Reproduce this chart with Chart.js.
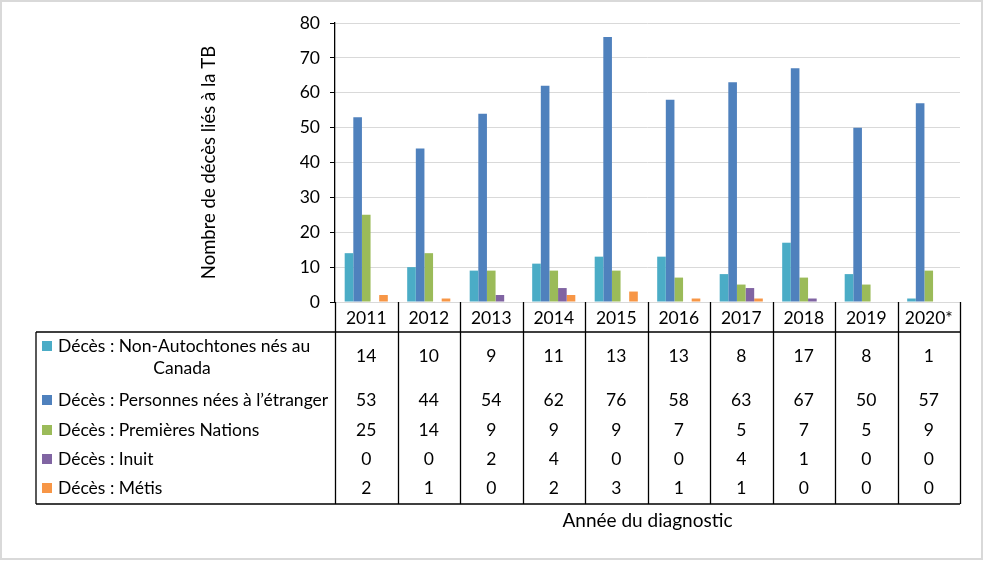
<!DOCTYPE html>
<html>
<head>
<meta charset="utf-8">
<script src="https://cdn.jsdelivr.net/npm/chart.js@4"></script>
<style>
  html, body { margin: 0; padding: 0; background: #fff; }
  #wrap { width: 984px; height: 561px; }
</style>
</head>
<body>
<div id="wrap"><canvas id="myChart" width="984" height="561"></canvas></div>
<script>
var ctx = document.getElementById('myChart');

// data
const years = ['2011', '2012', '2013', '2014', '2015', '2016', '2017', '2018', '2019', '2020*'];
const nonAutochtones = [14, 10, 9, 11, 13, 13, 8, 17, 8, 1];
const neesEtranger = [53, 44, 54, 62, 76, 58, 63, 67, 50, 57];
const premieresNations = [25, 14, 9, 9, 9, 7, 5, 7, 5, 9];
const inuit = [0, 0, 2, 4, 0, 0, 4, 1, 0, 0];
const metis = [2, 1, 0, 2, 3, 1, 1, 0, 0, 0];
const yTicks = [0, 10, 20, 30, 40, 50, 60, 70, 80];

const FONT = 'Lato, "Open Sans", sans-serif';

// table under the chart, drawn from the x scale
const tablePlugin = {
    id: 'dataTable',
    beforeDraw(chart) {
        let c = chart.ctx;
        c.save();
        c.fillStyle = '#fff';
        c.fillRect(0, 0, chart.width, chart.height);
        c.strokeStyle = '#d9d9d9';
        c.lineWidth = 2;
        c.strokeRect(1, 1, chart.width - 3, chart.height - 3);
        c.restore();
    },
    afterDraw(chart) {
        let c = chart.ctx;
        let x = chart.scales.x;
        let area = chart.chartArea;
        let colW = (area.right - area.left) / years.length;
        let top = area.bottom;
        let headBottom = top + 30;
        let bottom = top + 202;
        let legendLeft = 36;
        let rowY = [356, 400, 430, 459, 488];

        c.save();
        c.strokeStyle = '#000';
        c.lineWidth = 1.3;
        c.beginPath();
        // vertical lines
        for (let i = 0; i <= years.length; i++) {
            let px = Math.round(area.left + i * colW) + 0.5;
            c.moveTo(px, top);
            c.lineTo(px, bottom);
        }
        // horizontal lines
        c.moveTo(legendLeft, headBottom);
        c.lineTo(area.right, headBottom);
        c.moveTo(legendLeft, bottom);
        c.lineTo(area.right, bottom);
        c.moveTo(legendLeft, headBottom);
        c.lineTo(legendLeft, bottom);
        c.stroke();

        c.fillStyle = '#000';
        c.font = '17.5px ' + FONT;
        c.textAlign = 'center';
        c.textBaseline = 'middle';
        years.forEach(function (yr, i) {
            c.fillText(yr, x.getPixelForValue(i), (top + headBottom) / 2 + 1);
        });

        chart.data.datasets.forEach(function (ds, r) {
            ds.data.forEach(function (v, i) {
                c.fillStyle = '#000';
                c.fillText(String(v), x.getPixelForValue(i), rowY[r]);
            });
        });

        // legend column
        c.textAlign = 'left';
        chart.data.datasets.forEach(function (ds, r) {
            let ly = r === 0 ? 346 : rowY[r];
            c.fillStyle = ds.backgroundColor;
            c.fillRect(42, ly - 5, 10, 10);
            c.fillStyle = '#000';
            c.fillText(r === 0 ? 'Décès : Non-Autochtones nés au' : ds.label, 58, ly);
        });
        c.textAlign = 'center';
        c.fillText('Canada', 182, 368);
        c.restore();
    }
};

var myChart = new Chart(ctx, {
    type: 'bar',
    data: {
        labels: years,
        datasets: [{
            label: 'Décès : Non-Autochtones nés au Canada',
            backgroundColor: '#4BACC6',
            data: nonAutochtones
        }, {
            label: 'Décès : Personnes nées à l’étranger',
            backgroundColor: '#4F81BD',
            data: neesEtranger
        }, {
            label: 'Décès : Premières Nations',
            backgroundColor: '#9BBB59',
            data: premieresNations
        }, {
            label: 'Décès : Inuit',
            backgroundColor: '#8064A2',
            data: inuit
        }, {
            label: 'Décès : Métis',
            backgroundColor: '#F79646',
            data: metis
        }]
    },
    options: {
        responsive: false,
        animation: false,
        devicePixelRatio: 1,
        datasets: {
            bar: { categoryPercentage: 0.69, barPercentage: 1.0 }
        },
        layout: {
            padding: { left: 196, right: 24, top: 23, bottom: 29 }
        },
        plugins: {
            legend: { display: false },
            tooltip: { enabled: false }
        },
        scales: {
            x: {
                grid: { display: false },
                border: { display: false },
                ticks: { display: false },
                title: {
                    display: true,
                    text: 'Année du diagnostic',
                    color: '#000',
                    font: { family: FONT, size: 19 },
                    padding: 0
                },
                afterFit: function (scale) { scale.height = 230; }
            },
            y: {
                min: 0,
                max: 80,
                afterBuildTicks: function (scale) {
                    scale.ticks = yTicks.map(function (v) { return { value: v }; });
                },
                grid: { color: '#d9d9d9', tickColor: '#000', tickLength: 5, lineWidth: 1 },
                border: { color: '#000', width: 1.3 },
                ticks: {
                    color: '#000',
                    padding: 10,
                    font: { family: FONT, size: 17.5 }
                },
                title: {
                    display: true,
                    text: 'Nombre de décès liés à la TB',
                    color: '#000',
                    font: { family: FONT, size: 18.5 },
                    padding: { top: 2, bottom: 0 }
                },
                afterFit: function (scale) { scale.width = 139; }
            }
        }
    },
    plugins: [tablePlugin]
});
</script>
</body>
</html>
